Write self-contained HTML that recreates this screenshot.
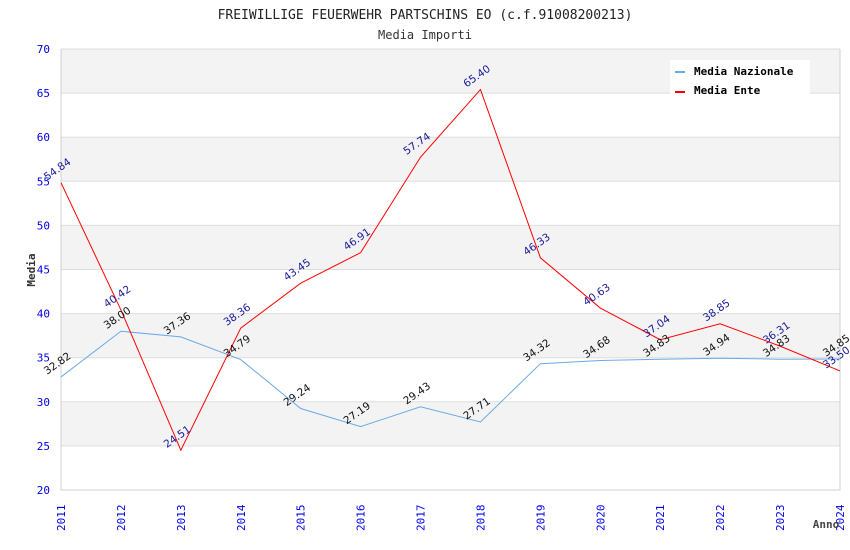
<!DOCTYPE html>
<html><head><meta charset="utf-8"><style>
body{margin:0;background:#fff;}
svg{display:block;font-family:"DejaVu Sans Mono","Liberation Mono",monospace;}
</style></head><body>
<svg id="chart" width="850" height="550">
<text x="425" y="19" text-anchor="middle" font-size="13" fill="#222">FREIWILLIGE FEUERWEHR PARTSCHINS EO (c.f.91008200213)</text>
<text x="425" y="39" text-anchor="middle" font-size="12" fill="#333">Media Importi</text>
<g id="bands"></g><g id="grid"></g><g id="axes"></g><g id="series"></g><g id="labels"></g>
<text x="0" y="0" transform="translate(35,270) rotate(-90)" text-anchor="middle" font-size="11" font-weight="bold" fill="#333">Media</text>
<text x="826" y="528" text-anchor="middle" font-size="11" font-weight="bold" fill="#444">Anno</text>
<g>
<rect x="670" y="60" width="140" height="40" fill="#fff"></rect>
<rect x="675" y="71" width="10" height="2" fill="#6aa9e8"></rect>
<text x="694" y="75" font-size="11" font-weight="bold" fill="#000">Media Nazionale</text>
<rect x="675" y="91" width="10" height="2" fill="#ff0000"></rect>
<text x="694" y="94" font-size="11" font-weight="bold" fill="#000">Media Ente</text>
</g>
</svg>
<script>
const years=[2011,2012,2013,2014,2015,2016,2017,2018,2019,2020,2021,2022,2023,2024];
const nazionale=[32.82,38.00,37.36,34.79,29.24,27.19,29.43,27.71,34.32,34.68,34.83,34.94,34.83,34.85];
const ente=[54.84,40.42,24.51,38.36,43.45,46.91,57.74,65.40,46.33,40.63,37.04,38.85,36.31,33.50];
const yTicks=[20,25,30,35,40,45,50,55,60,65,70];
const NS='http://www.w3.org/2000/svg';
const L=61,R=840,T=49,B=490,ymin=20,ymax=70;
const x=i=>L+(R-L)*i/(years.length-1);
const y=v=>B-(v-ymin)/(ymax-ymin)*(B-T);
function mk(tag,attrs,parent,txt){const e=document.createElementNS(NS,tag);for(const k in attrs)e.setAttribute(k,attrs[k]);if(txt!==undefined)e.textContent=txt;document.getElementById(parent).appendChild(e);return e;}
for(let i=0;i<yTicks.length-1;i++){
  if(i%2===1){const b=mk('rect',{x:L,y:y(yTicks[i+1]),width:R-L,height:y(yTicks[i])-y(yTicks[i+1]),fill:'#f3f3f3'},'bands');
  
  }
}
yTicks.forEach(t=>{
  const g=mk('line',{x1:L,x2:R,y1:y(t),y2:y(t),stroke:'#dedede','stroke-width':1},'grid');
  
  
  const tl=mk('text',{x:L-11,y:y(t)+4,'text-anchor':'end','font-size':11,fill:'#0000ee'},'axes',String(t));
  
  
});
const ax=mk('path',{d:`M${L},${T}V${B}H${R}V${T}`,fill:'none',stroke:'#d0d0d0'},'axes');


years.forEach((yr,i)=>{
  const t=mk('text',{transform:`translate(${x(i)+4},${531}) rotate(-90)`,'text-anchor':'start','font-size':11,fill:'#0000ee'},'axes',String(yr));
  
  
});
function series(vals,color,lab,name){
  const p=mk('polyline',{points:vals.map((v,i)=>x(i)+','+y(v)).join(' '),fill:'none',stroke:color,'stroke-width':1},'series');
  
  
  vals.forEach((v,i)=>{
    const t=mk('text',{transform:`translate(${x(i)-14},${y(v)-2}) rotate(-35)`,'font-size':10.5,fill:lab,'font-family':'DejaVu Sans, sans-serif'},'labels',v.toFixed(2));
    
    
  });
}
series(nazionale,'#6aa9e8','#111','nazionale');
series(ente,'#ff0000','#1a1a9a','ente');
</script>
</body></html>
